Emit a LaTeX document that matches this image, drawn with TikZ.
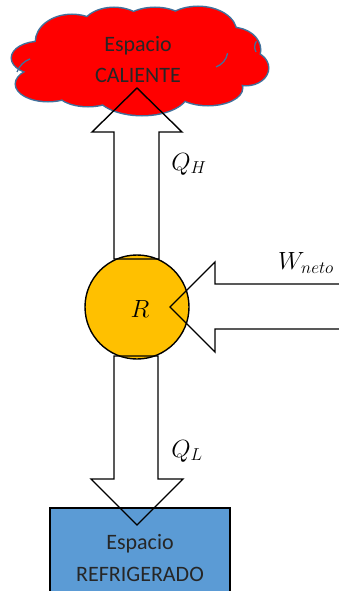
\documentclass[tikz,border=0pt]{standalone}
\usepackage{fontspec}
\setmainfont{Carlito}
\begin{document}
\begin{tikzpicture}[x=1pt,y=-1pt,
  blockarrow/.style={draw=black,line width=1.4pt,line join=miter},
  lbl/.style={font=\fontsize{22}{26}\selectfont,text=black!85},
  mlbl/.style={font=\fontsize{23}{26}\selectfont}]
\useasboundingbox (0,0) rectangle (338,591);
\definecolor{cloudred}{RGB}{255,0,0}
\definecolor{cloudedge}{RGB}{65,113,156}
\definecolor{orangeR}{RGB}{255,192,0}
\definecolor{boxblue}{RGB}{91,155,213}
% cloud
\def\cloudshape{
  (40,58) ellipse [x radius=28,y radius=16]
  (48,84) ellipse [x radius=32,y radius=17]
  (72,42) ellipse [x radius=36,y radius=27]
  (114,32) ellipse [x radius=34,y radius=24]
  (155,30) ellipse [x radius=36,y radius=22]
  (198,32) ellipse [x radius=38,y radius=25]
  (232,50) ellipse [x radius=28,y radius=22]
  (246,68) ellipse [x radius=22,y radius=17]
  (208,88) ellipse [x radius=34,y radius=17]
  (142,92) ellipse [x radius=46,y radius=23]
  (88,90) ellipse [x radius=32,y radius=16]
  (140,60) ellipse [x radius=95,y radius=35]}
\fill[cloudedge] [line width=3pt,draw=cloudedge] \cloudshape;
\fill[cloudred] \cloudshape;
\draw[cloudedge,line width=1.3pt] (17,72) arc[start angle=200,end angle=250,radius=22];
\draw[cloudedge,line width=1.3pt] (256,52) arc[start angle=150,end angle=215,radius=10];
\draw[cloudedge,line width=1.3pt] (216,67) arc[start angle=70,end angle=10,radius=18];
\node[lbl] (hot1) at (138,46) {Espacio};
\node[lbl] (hot2) at (138,75) {CALIENTE};
% cold box
\fill[boxblue,draw=black,line width=1.4pt] (50,508) rectangle (230,600);
\node[lbl] (cold1) at (140,544) {Espacio};
\node[lbl] (cold2) at (140,574) {REFRIGERADO};
% circle
\draw[fill=orangeR,line width=1.4pt] (137,307) circle[radius=52];
\node[mlbl] (R) at (140,309) {$R$};
% arrows
\draw[blockarrow] (114,259) -- (114,132) -- (92,132) -- (137,88) -- (182,132) -- (159,132) -- (159,259) -- cycle;
\draw[blockarrow] (114,356) -- (114,479) -- (91,479) -- (137,525) -- (183,479) -- (158,479) -- (158,356) -- cycle;
\draw[blockarrow] (340,284) -- (215,284) -- (215,262) -- (170,307) -- (215,352) -- (215,329) -- (340,329);
\node[mlbl] (QH) at (189,164) {$Q_H$};
\node[mlbl] (QL) at (187,451) {$Q_L$};
\node[mlbl] (W) at (306,263) {$W_{neto}$};
\end{tikzpicture}
\end{document}
